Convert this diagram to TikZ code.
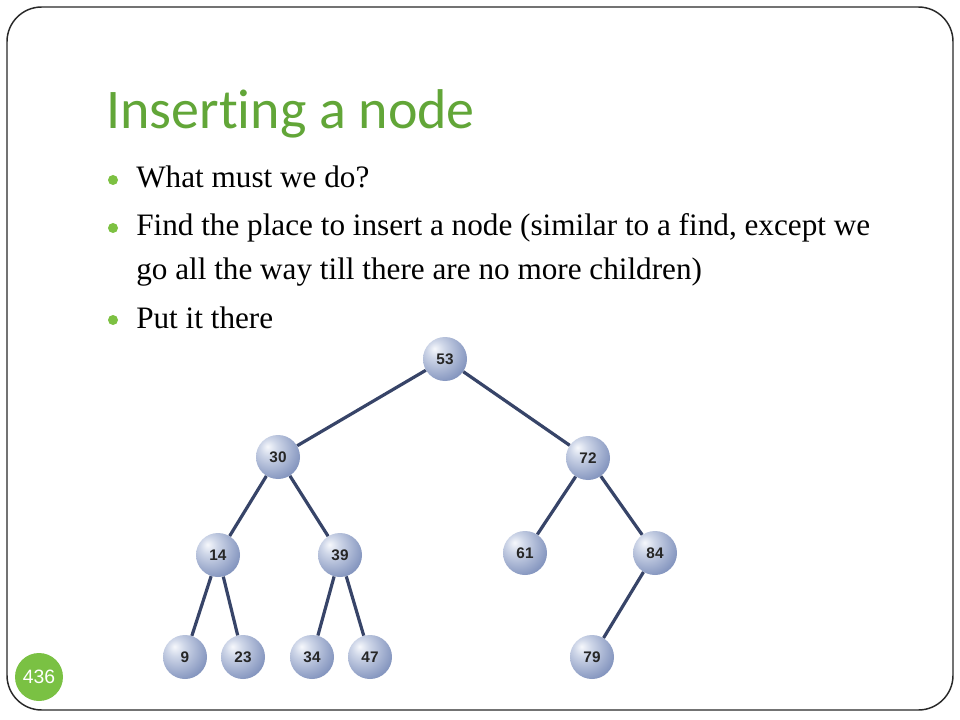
\documentclass[tikz,border=0pt]{standalone}
\usepackage{fontspec}
\setmainfont{Liberation Serif}
\newfontfamily\titlefont[Ligatures={NoCommon}]{Carlito}
\newfontfamily\numfont{Liberation Sans}
\definecolor{titlegreen}{RGB}{98,166,56}
\definecolor{dotgreen}{RGB}{125,193,66}
\definecolor{pagegreen}{RGB}{122,193,67}
\definecolor{edgeblue}{RGB}{55,68,104}
\definecolor{frame}{RGB}{40,40,40}
\definecolor{sA}{RGB}{246,248,252}
\definecolor{sB}{RGB}{206,214,232}
\definecolor{sC}{RGB}{124,142,186}
\definecolor{sD}{RGB}{70,88,138}
\pgfdeclareradialshading{spherebw}{\pgfpoint{-12bp}{12bp}}{color(0bp)=(sA); color(10bp)=(sB); color(36bp)=(sC); color(60bp)=(sD); color(80bp)=(sD)}
\tikzset{
  treenode/.style={circle, minimum size=33pt, inner sep=0pt, shading=spherebw,
    font=\numfont\bfseries\fontsize{11.5pt}{13pt}\selectfont, text=black!85},
  edge/.style={draw=edgeblue, line width=2.4pt},
  bodytext/.style={anchor=base west, inner sep=0pt, font=\fontsize{23.4pt}{28pt}\selectfont, text=black},
  bulletdot/.style={circle, fill=dotgreen, inner sep=0pt, minimum size=7.5pt},
}
\begin{document}
\begin{tikzpicture}[x=0.75pt, y=-0.75pt]
\useasboundingbox (0,0) rectangle (960,720);
\fill[white] (0,0) rectangle (960,720);
\draw[frame, line width=1.1pt, rounded corners=26pt] (7,7) rectangle (953,710);

% title
\node[anchor=base west, inner sep=0pt, text=titlegreen,
      font=\titlefont\fontsize{42pt}{48pt}\selectfont] (title) at (106,129) {Inserting a node};

% bullets
\node[bulletdot] (b1) at (113,180) {};
\node[bodytext] (t1) at (136,188) {What must we do?};
\node[bulletdot] (b2) at (113,228) {};
\node[bodytext] (t2) at (136,236) {Find the place to insert a node (similar to a find, except we};
\node[bodytext] (t2b) at (136,280) {go all the way till there are no more children)};
\node[bulletdot] (b3) at (113,320) {};
\node[bodytext] (t3) at (136,328) {Put it there};

% page number
\node[circle, fill=pagegreen, minimum size=36pt, inner sep=0pt, text=white,
      font=\numfont\fontsize{14.5pt}{16pt}\selectfont] (pg) at (39,677) {436};

% tree
\node[treenode] (n53) at (445,359) {53};
\node[treenode] (n30) at (278,457) {30};
\node[treenode] (n72) at (588,458) {72};
\node[treenode] (n14) at (218,555) {14};
\node[treenode] (n39) at (340,555) {39};
\node[treenode] (n61) at (525,553) {61};
\node[treenode] (n84) at (655,553) {84};
\node[treenode] (n9)  at (185,657) {9};
\node[treenode] (n23) at (243,657) {23};
\node[treenode] (n34) at (312,657) {34};
\node[treenode] (n47) at (370,657) {47};
\node[treenode] (n79) at (592,657) {79};

\draw[edge] (n53) -- (n30);
\draw[edge] (n53) -- (n72);
\draw[edge] (n30) -- (n14);
\draw[edge] (n30) -- (n39);
\draw[edge] (n72) -- (n61);
\draw[edge] (n72) -- (n84);
\draw[edge] (n14) -- (n9);
\draw[edge] (n14) -- (n23);
\draw[edge] (n39) -- (n34);
\draw[edge] (n39) -- (n47);
\draw[edge] (n84) -- (n79);
\end{tikzpicture}
\end{document}
